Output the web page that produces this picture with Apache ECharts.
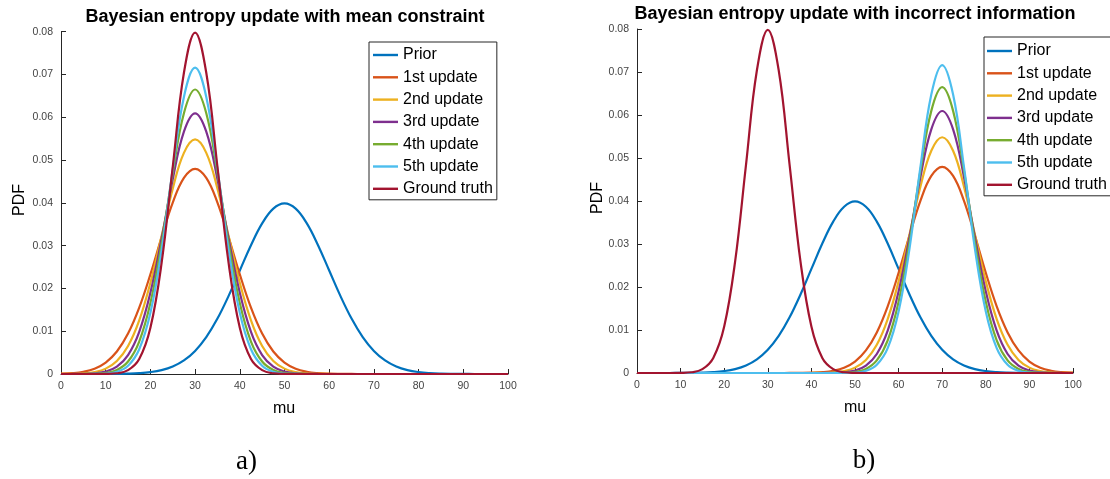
<!DOCTYPE html>
<html>
<head>
<meta charset="utf-8">
<script src="https://cdn.jsdelivr.net/npm/echarts@6/dist/echarts.min.js"></script>
<style>html,body{margin:0;padding:0;background:#fff}#c{width:1110px;height:479px}</style>
</head>
<body>
<div id="c"></div>
<script>
// x grid (mu)
const mu = [0,2.5,5,7.5,10,12.5,15,17.5,20,22.5,25,27.5,30,32.5,35,37.5,40,42.5,45,47.5,50,52.5,55,57.5,60,62.5,65,67.5,70,72.5,75,77.5,80,82.5,85,87.5,90,92.5,95,97.5,100];
const names = ['Prior','1st update','2nd update','3rd update','4th update','5th update','Ground truth'];
const colors = ['#0072BD','#D95319','#EDB120','#7E2F8E','#77AC30','#4DBEEE','#A2142F'];
const titleA = 'Bayesian entropy update with mean constraint';
const titleB = 'Bayesian entropy update with incorrect information';

// shared curves
const prior = [0,0,0,0.000005,0.000013,0.000035,0.000087,0.000203,0.000443,0.000909,0.001753,0.003174,0.005399,0.008627,0.01295,0.01826,0.0242,0.03011,0.0352,0.03866,0.03989,0.03866,0.0352,0.03011,0.0242,0.01826,0.01295,0.008627,0.005399,0.003174,0.001753,0.000909,0.000443,0.000203,0.000087,0.000035,0.000013,0.000005,0,0,0];
const truth = [0,0,0,0,0.00003,0.00017,0.00089,0.0035,0.0108,0.0259,0.0484,0.0704,0.0798,0.0704,0.0484,0.0259,0.0108,0.0035,0.00089,0.00017,0.00003,0,0,0,0,0,0,0,0,0,0,0,0,0,0,0,0,0,0,0,0];

// panel a) updates (centred at 30)
const upd1A = [0.000072,0.000204,0.000525,0.001239,0.002669,0.005252,0.009442,0.01551,0.02329,0.03194,0.04003,0.04583,0.04795,0.04583,0.04003,0.03194,0.02329,0.01551,0.009442,0.005252,0.002669,0.001239,0.000525,0.000204,0.000072,0.000023,0.000007,0.000002,0,0,0,0,0,0,0,0,0,0,0,0,0];
const upd2A = [0.000011,0.000043,0.00015,0.00046,0.001254,0.00304,0.006548,0.012535,0.02132,0.03223,0.0433,0.05169,0.05483,0.05169,0.0433,0.03223,0.02132,0.012535,0.006548,0.00304,0.001254,0.00046,0.00015,0.000043,0.000011,0.000003,0,0,0,0,0,0,0,0,0,0,0,0,0,0,0];
const upd3A = [0.000002,0.000009,0.000042,0.000166,0.000573,0.00171,0.004414,0.009843,0.018974,0.03161,0.04552,0.05665,0.06093,0.05665,0.04552,0.03161,0.018974,0.009843,0.004414,0.00171,0.000573,0.000166,0.000042,0.000009,0.000002,0,0,0,0,0,0,0,0,0,0,0,0,0,0,0,0];
const upd4A = [0,0.000002,0.000011,0.000059,0.000257,0.000945,0.002922,0.00759,0.016579,0.03044,0.04699,0.06096,0.06649,0.06096,0.04699,0.03044,0.016579,0.00759,0.002922,0.000945,0.000257,0.000059,0.000011,0.000002,0,0,0,0,0,0,0,0,0,0,0,0,0,0,0,0,0];
const upd5A = [0,0,0.000003,0.000021,0.000114,0.000515,0.001908,0.005777,0.014298,0.028933,0.04787,0.06475,0.07161,0.06475,0.04787,0.028933,0.014298,0.005777,0.001908,0.000515,0.000114,0.000021,0.000003,0,0,0,0,0,0,0,0,0,0,0,0,0,0,0,0,0,0];

// panel b) updates (centred at 70)
const upd1B = [0,0,0,0,0,0,0,0,0,0,0,0,0,0.000002,0.000007,0.000023,0.000072,0.000204,0.000525,0.001239,0.002669,0.005252,0.009442,0.01551,0.02329,0.03194,0.04003,0.04583,0.04795,0.04583,0.04003,0.03194,0.02329,0.01551,0.009442,0.005252,0.002669,0.001239,0.000525,0.000204,0.000072];
const upd2B = [0,0,0,0,0,0,0,0,0,0,0,0,0,0,0,0.000003,0.000011,0.000043,0.00015,0.00046,0.001254,0.00304,0.006548,0.012535,0.02132,0.03223,0.0433,0.05169,0.05483,0.05169,0.0433,0.03223,0.02132,0.012535,0.006548,0.00304,0.001254,0.00046,0.00015,0.000043,0.000011];
const upd3B = [0,0,0,0,0,0,0,0,0,0,0,0,0,0,0,0,0.000002,0.000009,0.000042,0.000166,0.000573,0.00171,0.004414,0.009843,0.018974,0.03161,0.04552,0.05665,0.06093,0.05665,0.04552,0.03161,0.018974,0.009843,0.004414,0.00171,0.000573,0.000166,0.000042,0.000009,0.000002];
const upd4B = [0,0,0,0,0,0,0,0,0,0,0,0,0,0,0,0,0,0.000002,0.000011,0.000059,0.000257,0.000945,0.002922,0.00759,0.016579,0.03044,0.04699,0.06096,0.06649,0.06096,0.04699,0.03044,0.016579,0.00759,0.002922,0.000945,0.000257,0.000059,0.000011,0.000002,0];
const upd5B = [0,0,0,0,0,0,0,0,0,0,0,0,0,0,0,0,0,0,0.000003,0.000021,0.000114,0.000515,0.001908,0.005777,0.014298,0.028933,0.04787,0.06475,0.07161,0.06475,0.04787,0.028933,0.014298,0.005777,0.001908,0.000515,0.000114,0.000021,0.000003,0,0];

const panelA = [prior, upd1A, upd2A, upd3A, upd4A, upd5A, truth];
const panelB = [prior, upd1B, upd2B, upd3B, upd4B, upd5B, truth];

const FONT = '"Liberation Sans", Arial, Helvetica, sans-serif';
const SERIF = '"Liberation Serif", "Times New Roman", serif';
const AX = '#262626';

function pairs(ys){ return mu.map((x,i)=>[x, ys[i]]); }

function xAx(gi){
  return {gridIndex:gi, type:'value', min:0, max:100, interval:10,
    axisLine:{show:true, onZero:false, lineStyle:{color:AX, width:1}},
    axisTick:{show:true, inside:true, length:5, lineStyle:{color:AX}},
    axisLabel:{fontSize:10.5, color:'#444', fontFamily:FONT, margin:7, showMinLabel:true, showMaxLabel:true},
    splitLine:{show:false}};
}
function yAx(gi){
  return {gridIndex:gi, type:'value', min:0, max:0.08, interval:0.01,
    axisLine:{show:true, lineStyle:{color:AX, width:1}},
    axisTick:{show:true, inside:true, length:5, lineStyle:{color:AX}},
    axisLabel:{fontSize:10.5, color:'#444', fontFamily:FONT, margin:8,
      formatter:v=>v===0?'0':v.toFixed(2)},
    splitLine:{show:false}};
}

const series = [];
panelA.forEach((d,i)=>series.push({name:names[i], type:'line', xAxisIndex:0, yAxisIndex:0,
  data:pairs(d), smooth:0.4, symbol:'none', lineStyle:{width:2.2, color:colors[i]}, itemStyle:{color:colors[i]}}));
panelB.forEach((d,i)=>series.push({name:names[i], type:'line', xAxisIndex:1, yAxisIndex:1,
  data:pairs(d), smooth:0.4, symbol:'none', lineStyle:{width:2.2, color:colors[i]}, itemStyle:{color:colors[i]}}));

function leg(left, top, pad){
  return {left:left, top:top, orient:'vertical', data:names, icon:'rect', itemWidth:25, itemHeight:2.4, itemGap:6.3,
    padding:pad, borderColor:AX, borderWidth:1, backgroundColor:'#fff', selectedMode:false,
    textStyle:{fontSize:16, color:'#000', fontFamily:FONT, lineHeight:16, height:16}};
}

function txt(x,y,text,font,rot){
  return {type:'text', x:x, y:y, rotation:rot||0, style:{text:text, font:font, fill:'#000', align:'center', verticalAlign:'middle'}};
}

const chart = echarts.init(document.getElementById('c'));
chart.setOption({
  animation:false,
  backgroundColor:'#fff',
  grid:[{left:61, top:31.7, width:447, height:342.3},{left:637, top:29, width:436, height:344}],
  xAxis:[xAx(0), xAx(1)],
  yAxis:[yAx(0), yAx(1)],
  legend:[leg(369, 42, [5,4,3,4]), leg(984, 37, [6,4,3,3])],
  series:series,
  graphic:[
    txt(285, 17, titleA, 'bold 18px '+FONT),
    txt(855, 14.5, titleB, 'bold 18px '+FONT),
    txt(20, 200, 'PDF', '16px '+FONT, Math.PI/2),
    txt(598, 198, 'PDF', '16px '+FONT, Math.PI/2),
    txt(284, 409, 'mu', '16px '+FONT),
    txt(855, 408, 'mu', '16px '+FONT),
    txt(246.5, 462, 'a)', '27px '+SERIF),
    txt(864, 461, 'b)', '27px '+SERIF)
  ]
});
</script>
</body>
</html>
